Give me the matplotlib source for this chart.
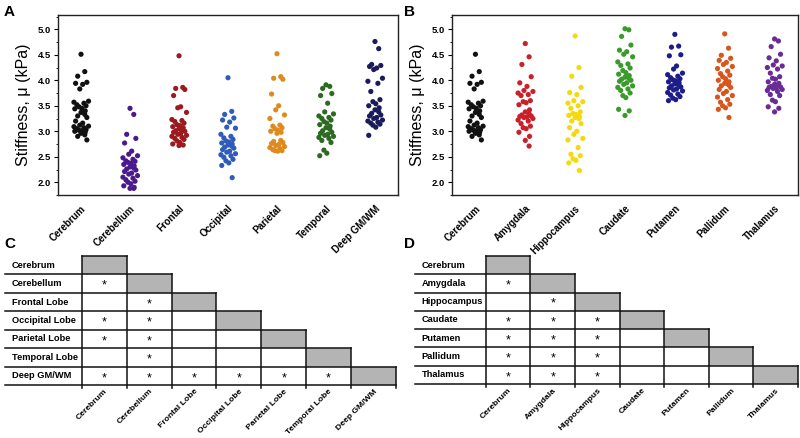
import numpy as np
import matplotlib
matplotlib.use('Agg')
import matplotlib.pyplot as plt
from matplotlib.patches import Rectangle

plt.rcParams['font.family'] = ['Liberation Sans', 'DejaVu Sans']

# ---- panel A data (kPa) ----
regions_a = ['Cerebrum', 'Cerebellum', 'Frontal', 'Occipital', 'Parietal', 'Temporal', 'Deep GM/WM']
colors_a = ['#111111', '#4a1a8c', '#9a1b1e', '#2f5cb8', '#e0891c', '#2c6a22', '#1b1a5a']

cerebrum = [4.51, 4.17, 4.08, 3.96, 3.94, 3.92, 3.83, 3.59, 3.57, 3.55, 3.52, 3.50, 3.48, 3.45,
            3.44, 3.40, 3.37, 3.33, 3.30, 3.27, 3.20, 3.16, 3.12, 3.10, 3.09, 3.07, 3.05, 3.03,
            3.02, 3.01, 3.00, 2.98, 2.96, 2.93, 2.90, 2.83]
cerebellum = [3.45, 3.33, 2.94, 2.86, 2.77, 2.61, 2.55, 2.52, 2.48, 2.45, 2.42, 2.41, 2.39, 2.37,
              2.35, 2.32, 2.30, 2.28, 2.26, 2.24, 2.21, 2.18, 2.16, 2.13, 2.10, 2.08, 2.05, 2.02,
              2.00, 1.97, 1.93, 1.90, 1.88, 1.88]
frontal = [4.48, 3.86, 3.84, 3.82, 3.70, 3.48, 3.46, 3.37, 3.23, 3.21, 3.19, 3.16, 3.13, 3.11,
           3.09, 3.07, 3.05, 3.03, 3.01, 3.00, 2.98, 2.96, 2.94, 2.92, 2.90, 2.88, 2.86, 2.84,
           2.81, 2.78, 2.75, 2.73, 2.72]
occipital = [4.05, 3.39, 3.33, 3.26, 3.22, 3.18, 3.08, 3.06, 2.94, 2.90, 2.87, 2.84, 2.81, 2.79,
             2.77, 2.75, 2.73, 2.71, 2.69, 2.67, 2.64, 2.61, 2.59, 2.56, 2.54, 2.52, 2.49, 2.45,
             2.42, 2.38, 2.33, 2.09]
parietal = [4.52, 4.07, 4.04, 4.02, 3.73, 3.50, 3.42, 3.32, 3.25, 3.12, 3.10, 3.07, 3.05, 3.02,
            3.00, 2.98, 2.96, 2.82, 2.80, 2.78, 2.76, 2.74, 2.72, 2.70, 2.68, 2.66, 2.64, 2.62,
            2.62, 2.61]
temporal = [3.91, 3.88, 3.84, 3.74, 3.70, 3.55, 3.38, 3.34, 3.30, 3.27, 3.25, 3.22, 3.19, 3.16,
            3.13, 3.10, 3.07, 3.04, 3.01, 2.98, 2.96, 2.94, 2.92, 2.90, 2.88, 2.86, 2.82, 2.78,
            2.63, 2.57, 2.52]
deep = [4.76, 4.62, 4.31, 4.29, 4.27, 4.24, 4.21, 4.04, 3.98, 3.94, 3.78, 3.62, 3.58, 3.54,
        3.50, 3.46, 3.42, 3.38, 3.35, 3.32, 3.30, 3.27, 3.25, 3.22, 3.20, 3.18, 3.16, 3.14,
        3.12, 3.08, 2.92]

# ---- panel B data (kPa) ----
regions_b = ['Cerebrum', 'Amygdala', 'Hippocampus', 'Caudate', 'Putamen', 'Pallidum', 'Thalamus']
colors_b = ['#111111', '#c9212b', '#f3d90e', '#3b9a2c', '#1d1d8a', '#d8561b', '#6a2b96']

amygdala = [4.72, 4.46, 4.31, 4.07, 3.95, 3.88, 3.80, 3.78, 3.75, 3.72, 3.70, 3.60, 3.58, 3.56,
            3.52, 3.42, 3.38, 3.34, 3.32, 3.30, 3.29, 3.28, 3.27, 3.25, 3.22, 3.20, 3.15, 3.10,
            3.07, 3.05, 2.98, 2.90, 2.82, 2.71]
hippocampus = [4.87, 4.25, 4.08, 3.86, 3.76, 3.72, 3.60, 3.58, 3.55, 3.50, 3.45, 3.38, 3.35, 3.33,
               3.31, 3.29, 3.27, 3.25, 3.20, 3.15, 3.07, 3.00, 2.94, 2.86, 2.83, 2.68, 2.55, 2.52,
               2.46, 2.43, 2.38, 2.23]
caudate = [5.01, 4.99, 4.86, 4.69, 4.59, 4.56, 4.51, 4.46, 4.36, 4.32, 4.29, 4.24, 4.19, 4.15,
           4.12, 4.09, 4.06, 4.04, 4.02, 4.00, 3.98, 3.95, 3.92, 3.89, 3.86, 3.83, 3.80, 3.75,
           3.70, 3.66, 3.43, 3.40, 3.31]
putamen = [4.90, 4.67, 4.65, 4.50, 4.48, 4.28, 4.22, 4.14, 4.11, 4.08, 4.05, 4.03, 4.01, 3.99,
           3.97, 3.95, 3.93, 3.91, 3.89, 3.87, 3.85, 3.83, 3.81, 3.79, 3.76, 3.73, 3.71, 3.68,
           3.65, 3.62, 3.60]
pallidum = [4.91, 4.63, 4.49, 4.43, 4.39, 4.35, 4.31, 4.27, 4.23, 4.18, 4.13, 4.10, 4.07, 4.03,
            4.00, 3.97, 3.94, 3.91, 3.89, 3.86, 3.82, 3.78, 3.74, 3.70, 3.67, 3.62, 3.57, 3.53,
            3.50, 3.46, 3.43, 3.27]
thalamus = [4.81, 4.77, 4.66, 4.51, 4.44, 4.38, 4.30, 4.28, 4.25, 4.22, 4.14, 4.07, 4.04, 4.02,
            3.97, 3.94, 3.92, 3.90, 3.88, 3.87, 3.86, 3.85, 3.84, 3.82, 3.80, 3.78, 3.72, 3.70,
            3.61, 3.58, 3.48, 3.45, 3.38]

groups_a = [cerebrum, cerebellum, frontal, occipital, parietal, temporal, deep]
groups_b = [cerebrum, amygdala, hippocampus, caudate, putamen, pallidum, thalamus]

# ---- significance tables (column indices with * per row) ----
rows_c = ['Cerebrum', 'Cerebellum', 'Frontal Lobe', 'Occipital Lobe', 'Parietal Lobe',
          'Temporal Lobe', 'Deep GM/WM']
sig_c = [[], [0], [1], [0, 1], [0, 1], [1], [0, 1, 2, 3, 4, 5]]
rows_d = ['Cerebrum', 'Amygdala', 'Hippocampus', 'Caudate', 'Putamen', 'Pallidum', 'Thalamus']
sig_d = [[], [0], [1], [0, 1, 2], [0, 1, 2], [0, 1, 2], [0, 1, 2]]

# fixed jitter pattern for strip plots
jit = np.array([0.0, 0.09, -0.08, 0.14, -0.13, 0.04, -0.03, 0.18, -0.17, 0.07,
                -0.10, 0.12, -0.05, 0.02, -0.15, 0.10])

W, H = 800, 438
fig = plt.figure(figsize=(W / 100, H / 100), dpi=100)


def px_axes(x0, y0, x1, y1):
    return fig.add_axes([x0 / W, 1 - y1 / H, (x1 - x0) / W, (y1 - y0) / H])


def strip(ax, groups, names, colors):
    for i, (vals, c) in enumerate(zip(groups, colors)):
        vals = np.array(vals)
        xs = i + jit[np.arange(len(vals)) % len(jit)] * 0.85
        ax.scatter(xs, vals, s=14, color=c, edgecolors='none', zorder=3)
    ax.set_xlim(-0.47, 6.47)
    ax.set_ylim(1.75, 5.28)
    ax.set_xticks(range(len(names)))
    ax.set_xticklabels(names, rotation=45, ha='right', rotation_mode='anchor',
                       fontsize=7, fontweight='bold')
    ax.tick_params(axis='x', length=0, pad=6)
    ax.set_yticks(np.arange(2.0, 5.01, 0.5))
    ax.set_yticks(np.arange(1.75, 5.3, 0.25), minor=True)
    ax.set_yticklabels(['%.1f' % v for v in np.arange(2.0, 5.01, 0.5)],
                       fontsize=6.8, fontweight='bold')
    ax.tick_params(axis='y', which='major', length=3, width=0.8, pad=2)
    ax.tick_params(axis='y', which='minor', length=1.8, width=0.6)
    for s in ax.spines.values():
        s.set_linewidth(1.0)
        s.set_color('#222222')
    ax.set_ylabel('Stiffness, \u03bc (kPa)', fontsize=11.5, labelpad=5)


ax_a = px_axes(58, 15, 398, 195)
strip(ax_a, groups_a, regions_a, colors_a)
ax_b = px_axes(452, 15, 798, 195)
strip(ax_b, groups_b, regions_b, colors_b)


def sig_table(ax, rows, sig, lw):
    n = len(rows)
    ax.set_xlim(-lw, n)
    ax.set_ylim(n, 0)
    for s in ax.spines.values():
        s.set_visible(False)
    ax.set_yticks([])
    ax.set_xticks(np.arange(n) + 0.5)
    ax.set_xticklabels(rows, rotation=45, ha='right', rotation_mode='anchor',
                       fontsize=6.1, fontweight='bold')
    ax.tick_params(axis='x', length=0, pad=2)
    lc = '#111111'
    for i in range(n):
        ax.add_patch(Rectangle((i, i), 1, 1, facecolor='#b4b4b4', edgecolor='none', zorder=1))
        ax.text(-lw + 0.15, i + 0.5, rows[i], fontsize=6.7, fontweight='bold',
                ha='left', va='center')
        for j in sig[i]:
            ax.text(j + 0.5, i + 0.62, '*', fontsize=9, ha='center', va='center')
    # horizontal rules
    ax.plot([0, 1], [0, 0], color=lc, lw=1.1, zorder=2, clip_on=False)
    for k in range(1, n + 1):
        ax.plot([-lw, min(k + 1, n)], [k, k], color=lc, lw=1.1, zorder=2, clip_on=False)
    # vertical rules
    for j in range(n + 1):
        ax.plot([j, j], [max(j - 1, 0), n + 0.17], color=lc, lw=1.1, zorder=2, clip_on=False)


ax_c = px_axes(5, 256, 396, 385)
sig_table(ax_c, rows_c, sig_c, 1.71)
ax_d = px_axes(415, 256, 798, 384)
sig_table(ax_d, rows_d, sig_d, 1.59)

for lab, x, y in [('A', 4, 12), ('B', 404, 12), ('C', 4, 244), ('D', 404, 244)]:
    fig.text(x / W, 1 - y / H, lab, fontsize=11, fontweight='bold', ha='left', va='center')

fig.savefig('out.png', dpi=100)
